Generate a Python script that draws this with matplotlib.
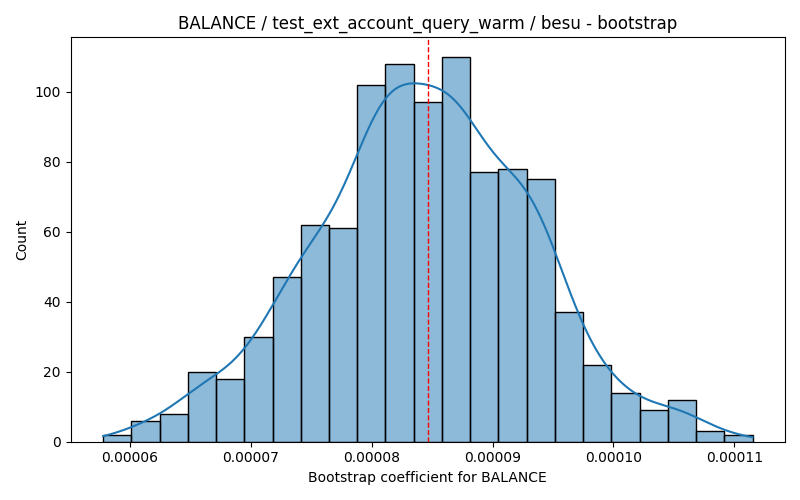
import numpy as np
import matplotlib
matplotlib.use("Agg")
import matplotlib.pyplot as plt

title = "BALANCE / test_ext_account_query_warm / besu - bootstrap"
xlabel = "Bootstrap coefficient for BALANCE"
ylabel = "Count"

bin_lo = 0.0000578
bin_hi = 0.0001115
counts = [2, 6, 8, 20, 18, 30, 47, 62, 61, 102, 108, 97, 110,
          77, 78, 75, 37, 22, 14, 9, 12, 3, 2]
mean_value = 0.0000847

counts = np.array(counts, dtype=float)
edges = np.linspace(bin_lo, bin_hi, len(counts) + 1)
centers = (edges[:-1] + edges[1:]) / 2
width = edges[1] - edges[0]
n = counts.sum()

# gaussian KDE (Scott's rule on the 1000 samples), scaled to counts
w = counts / n
mu = np.sum(w * centers)
var = np.sum(w * (centers - mu) ** 2)
bw = np.sqrt(var) * n ** (-1 / 5)
xs = np.linspace(bin_lo, bin_hi, 400)
dens = np.sum(w[None, :] * np.exp(-0.5 * ((xs[:, None] - centers[None, :]) / bw) ** 2), axis=1) / (bw * np.sqrt(2 * np.pi))
kde_counts = dens * n * width

fig, ax = plt.subplots(figsize=(8, 5), dpi=100)
ax.bar(edges[:-1], counts, width=width, align="edge",
       facecolor=(0.122, 0.467, 0.706, 0.5), edgecolor="black", linewidth=1)
ax.plot(xs, kde_counts, color="#1f77b4", linewidth=1.5)
ax.axvline(mean_value, color="red", linestyle="--", linewidth=1)
ax.set_title(title)
ax.set_xlabel(xlabel)
ax.set_ylabel(ylabel)
fig.tight_layout()
fig.savefig("out.png", dpi=100)
